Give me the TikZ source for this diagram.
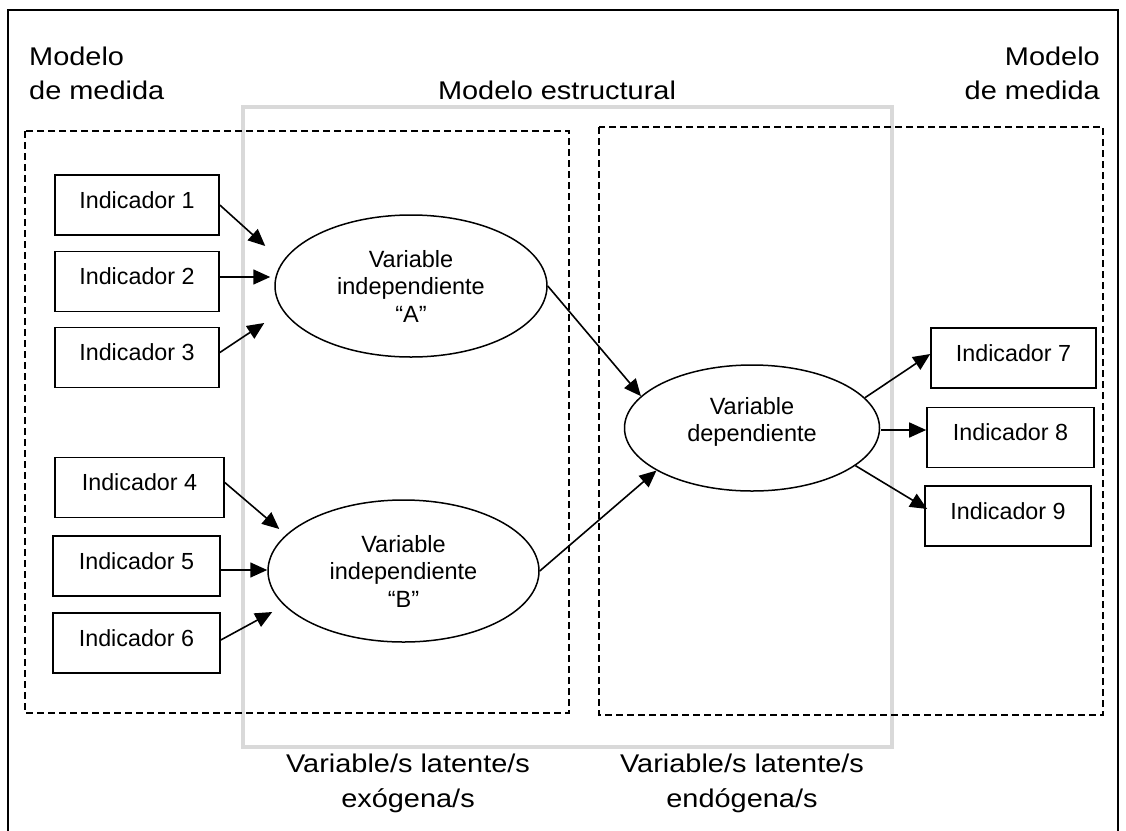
\documentclass[tikz,border=0pt]{standalone}
\usepackage{fontspec}
\setmainfont{Liberation Sans}
\newfontfamily\bigfont[FakeStretch=1.13]{Liberation Sans}
\usetikzlibrary{arrows.meta,calc,shapes.geometric}
\definecolor{lgray}{RGB}{217,217,217}
\begin{document}
\begin{tikzpicture}[x=1pt,y=-1pt,
  ind/.style={draw, line width=1.6pt, inner xsep=0pt, inner ysep=0pt,
    text height=33pt, text depth=27pt, font=\fontsize{23.3}{28}\selectfont},
  lat/.style={ellipse, draw, line width=1.5pt, inner sep=0pt, align=center,
    font=\fontsize{23.5}{27.5}\selectfont},
  biglbl/.style={inner sep=0pt, font=\bigfont\fontsize{25.6}{34.5}\selectfont},
  dbox/.style={draw, line width=1.6pt, dash pattern=on 7pt off 4pt},
  sbox/.style={draw=lgray, line width=3.3pt},
  arr/.style={-{Triangle[length=17pt,width=15pt]}, line width=1.6pt}]
\useasboundingbox (0,0) rectangle (1126,830);
\clip (0,0) rectangle (1126,830);
% outer frame
\draw[line width=1.8pt] (8,840) -- (8,10) -- (1118,10) -- (1118,840);
% structural model box
\draw[sbox] (243,107) rectangle (892,747);
% measurement model boxes
\draw[dbox] (25,131) rectangle (569,713);
\draw[dbox] (599,127) rectangle (1103,715);
% labels (base anchor = baseline of the last line)
\node[biglbl, anchor=base west, align=left] (mmL) at (29,99.5) {Modelo\\de medida};
\node[biglbl, anchor=base east, align=right] (mmR) at (1100,99.5) {Modelo\\de medida};
\node[biglbl, anchor=base] (me) at (557,99) {Modelo estructural};
\node[biglbl, anchor=base, align=center] (exo) at (408,807) {Variable/s latente/s\\exógena/s};
\node[biglbl, anchor=base, align=center] (endo) at (742,807) {Variable/s latente/s\\endógena/s};
% indicators
\node[ind, minimum width=164pt] (i1) at (137,205) {Indicador 1};
\node[ind, minimum width=164pt] (i2) at (137,281.5) {Indicador 2};
\node[ind, minimum width=164pt] (i3) at (137,357.5) {Indicador 3};
\node[ind, minimum width=169pt] (i4) at (139.5,487.5) {Indicador 4};
\node[ind, minimum width=167pt] (i5) at (136.5,566) {Indicador 5};
\node[ind, minimum width=167pt] (i6) at (136.5,643) {Indicador 6};
\node[ind, minimum width=165pt] (i7) at (1013.5,358) {Indicador 7};
\node[ind, minimum width=167pt] (i8) at (1010.5,437.5) {Indicador 8};
\node[ind, minimum width=166pt] (i9) at (1008,516) {Indicador 9};
% latent variables
\node[lat, minimum width=272pt, minimum height=142pt] (A) at (411,286) {Variable\\independiente\\“A”};
\node[lat, minimum width=271pt, minimum height=142pt] (B) at (403.5,571) {Variable\\independiente\\“B”};
\node[lat, minimum width=255pt, minimum height=126pt] (D) at (752,428) {Variable\\dependiente\\[-10pt]\mbox{}};
% connectors
\draw[arr] (i1.east) -- ($(A.west)+(-9,-40)$);
\draw[arr] ($(i2.east)+(0,-4.5)$) -- ($(A.west)+(-4,-9)$);
\draw[arr] ($(i3.east)+(0,-5)$) -- ($(A.west)+(-10,37)$);
\draw[arr] ($(i4.east)+(0,-5)$) -- ($(B.west)+(12,-42)$);
\draw[arr] ($(i5.east)+(0,4)$) -- ($(B.west)+(0,-1)$);
\draw[arr] ($(i6.east)+(0,-3)$) -- ($(B.west)+(5,41)$);
\draw[arr] (A.east) -- (D.164);
\draw[arr] (B.east) -- (D.204);
\draw[arr] (D.15) -- ($(i7.west)+(0,-4)$);
\draw[arr] ($(D.east)+(1,2)$) -- ($(i8.west)+(0,-7.5)$);
\draw[arr] (D.340) -- ($(i9.west)+(3,-7)$);
\end{tikzpicture}
\end{document}
